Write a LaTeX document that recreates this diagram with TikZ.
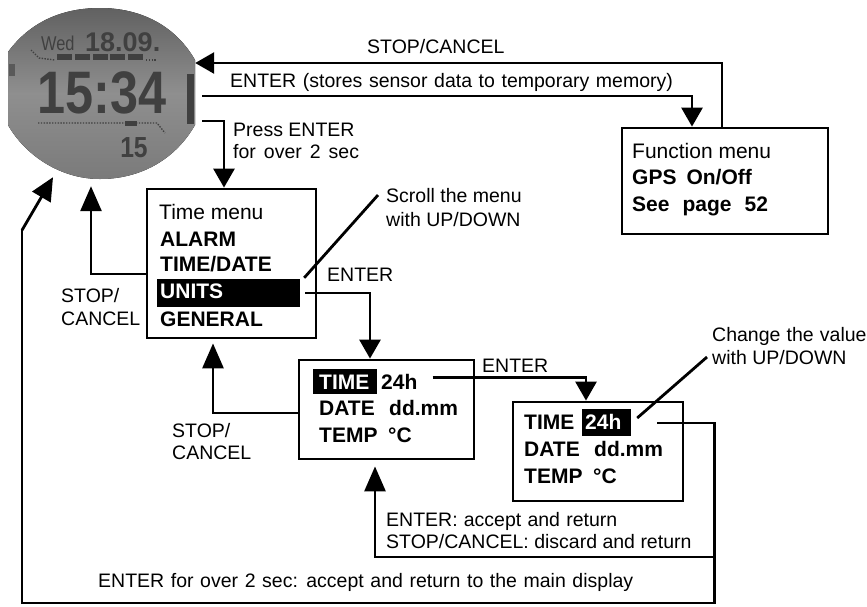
\documentclass[tikz,border=0pt]{standalone}
\usepackage{fontspec}
\setmainfont{Liberation Sans}
\usetikzlibrary{arrows.meta}
\newcommand{\notefont}{\fontsize{19.5}{22}\selectfont}
\newcommand{\menufont}{\fontsize{21}{25}\selectfont}
\tikzset{
  frame/.style={draw, line width=2.8pt, inner sep=0pt},
  flow/.style={line width=2.8pt, -{Triangle[width=21pt,length=19pt]}},
  flowlong/.style={line width=2.8pt, -{Triangle[width=21pt,length=25pt]}},
  plain/.style={line width=2.8pt},
  note/.style={anchor=base west, inner sep=0pt, font=\notefont},
  wide/.style={execute at begin node={\spaceskip=#1\relax}},
  item/.style={anchor=base west, inner sep=0pt, font=\menufont},
  itembf/.style={item, font=\menufont\bfseries},
  bar/.style={fill=black, inner sep=0pt},
  lcd/.style={inner sep=0pt, text=black!75, font=\bfseries, transform shape},
  lcddots/.style={line width=1.4pt, black!75, dash pattern=on 1.4pt off 1.4pt}
}
\begin{document}
\begin{tikzpicture}[x=1pt, y=-1pt]
    \useasboundingbox (0,0) rectangle (867,606);
    % display
    \fill[top color=black!62, bottom color=black!52, middle color=black!44]
      (8,52) .. controls (30,22) and (62,8) .. (100,8)
      .. controls (140,8) and (175,25) .. (195,60) -- (195,125)
      .. controls (175,160) and (140,179) .. (100,179)
      .. controls (60,179) and (25,155) .. (8,125) -- cycle;
    \node (display) [minimum width=187pt, minimum height=171pt, inner sep=0pt] at (101.5,93.5) {};
    \node (wed) [lcd, anchor=base west, xscale=.82] at (41,50) {\fontsize{20}{20}\selectfont\mdseries Wed};
    \node (date) [lcd, anchor=base west] at (85,51) {\fontsize{27}{27}\selectfont 18.09.};
    \node (clock) [lcd, anchor=base, xscale=.84] at (102,113) {\fontsize{60}{60}\selectfont 15:34};
    \node (secs) [lcd, anchor=base, xscale=.85] at (134,157) {\fontsize{29}{29}\selectfont 15};
    \foreach \segx in {57,75,93,110,128}
      \fill[black!75] (\segx,54) rectangle +(15,6);
    \draw[lcddots] (31,50) -- (39,58) -- (55,60);
    \draw[lcddots] (146,60) -- (157,60);
    \draw[lcddots] (38,123) -- (157,123) -- (165,133);
    \fill[black!75] (125,121) rectangle (137,126);
    \fill[black!75] (187,74) rectangle (194,124);
    \fill[black!65] (9,64) rectangle (15,76);

    % boxes
    \node (funcbox) [frame, minimum width=206pt, minimum height=106pt] at (725,181) {};
    \node (timebox) [frame, minimum width=169pt, minimum height=149pt] at (231.5,263.5) {};
    \node (midbox) [frame, minimum width=175pt, minimum height=99pt] at (386.5,409.5) {};
    \node (valbox) [frame, minimum width=170pt, minimum height=99pt] at (598,451.5) {};

    % box texts
    \node (f1) [item] at (632,158) {Function menu};
    \node (f2) [itembf, wide=10pt] at (632,184) {GPS On/Off};
    \node (f3) [itembf, wide=13pt] at (632,211) {See page 52};

    \node (t1) [item] at (159,219) {Time menu};
    \node (t2) [itembf] at (160,246) {ALARM};
    \node (t3) [itembf] at (160,271) {TIME/DATE};
    \node (unitsbar) [bar, minimum width=143pt, minimum height=28pt] at (228.5,293) {};
    \node (t4) [itembf, text=white] at (160,298) {UNITS};
    \node (t5) [itembf] at (160,326) {GENERAL};

    \node (timebar) [bar, minimum width=64pt, minimum height=25pt] at (345,381.5) {};
    \node (m1) [itembf, text=white] at (319,389) {TIME};
    \node (m1v) [itembf] at (381,389) {24h};
    \node (m2) [itembf] at (319,415) {DATE};
    \node (m2v) [itembf] at (389,415) {dd.mm};
    \node (m3) [itembf] at (319,442) {TEMP};
    \node (m3v) [itembf] at (388,442) {°C};

    \node (v1) [itembf] at (524,429) {TIME};
    \node (valbar) [bar, minimum width=49pt, minimum height=27pt] at (606.5,422.5) {};
    \node (v1v) [itembf, text=white] at (585,429) {24h};
    \node (v2) [itembf] at (524,456) {DATE};
    \node (v2v) [itembf] at (594,456) {dd.mm};
    \node (v3) [itembf] at (524,483) {TEMP};
    \node (v3v) [itembf] at (593,483) {°C};

    % notes
    \node (stopa) [note] at (367,53) {STOP/CANCEL};
    \node (entera) [note, wide=6.6pt] at (230,87) {ENTER (stores sensor data to temporary memory)};
    \node (pressa) [note] at (233,136) {Press ENTER};
    \node (pressb) [note, wide=8pt] at (233,158) {for over 2 sec};
    \node (scrolla) [note] at (386,202) {Scroll the menu};
    \node (scrollb) [note] at (386,226) {with UP/DOWN};
    \node (enterb) [note] at (327,281) {ENTER};
    \node (enterc) [note] at (482,372) {ENTER};
    \node (changea) [note, wide=6.2pt] at (712,341) {Change the value};
    \node (changeb) [note] at (712,364) {with UP/DOWN};
    \node (stopb) [note] at (61,302) {STOP/};
    \node (cancelb) [note] at (61,325) {CANCEL};
    \node (stopc) [note] at (172,437) {STOP/};
    \node (cancelc) [note] at (172,459) {CANCEL};
    \node (acca) [note, wide=6.2pt] at (386,526) {ENTER: accept and return};
    \node (accb) [note] at (386,548) {STOP/CANCEL: discard and return};
    \node (accc) [note, wide=6.6pt] at (98,587) {ENTER for over 2 sec: accept and return to the main display};

    % connectors
    \draw[flow] ([xshift=-3pt]funcbox.north) |- ([yshift=30.5pt]display.east);
    \draw[flow] ([shift={(7pt,-2.5pt)}]display.east) -| ([xshift=-33pt]funcbox.north);
    \draw[flow] ([shift={(7pt,-27.5pt)}]display.east) -| ([xshift=-7.5pt]timebox.north);
    \draw[flowlong] ([yshift=-10.5pt]timebox.west) -| ([shift={(-10.5pt,-7pt)}]display.south);
    \draw[flow] ([xshift=5pt]unitsbar.east) -| ([xshift=-16.5pt]midbox.north);
    \draw[plain] ([shift={(4pt,1pt)}]unitsbar.north east) -- ([xshift=-8pt]scrolla.west);
    \draw[flowlong] ([yshift=-3.5pt]midbox.west) -| ([shift={(-18.5pt,-4pt)}]timebox.south);
    \draw[flow] ([shift={(15pt,4pt)}]m1v.east) -| ([xshift=-12pt]valbox.north);
    \draw[plain] ([shift={(6pt,4.5pt)}]valbar.east) -- ([xshift=-5pt]changeb.west);
    \draw[plain] ([shift={(26pt,-0.5pt)}]valbar.east) -| ([shift={(30pt,-151.5pt)}]valbox.east) -| ([shift={(-79.5pt,-51pt)}]display.south) coordinate (turn);
    \draw[line width=2.8pt, -{Triangle[width=21pt,length=23pt]}] (turn) -- ([shift={(-48.5pt,2pt)}]display.south);
    \draw[flowlong] ([shift={(30pt,-105.5pt)}]valbox.east) -| ([shift={(-11.5pt,-6pt)}]midbox.south);
\end{tikzpicture}
\end{document}
